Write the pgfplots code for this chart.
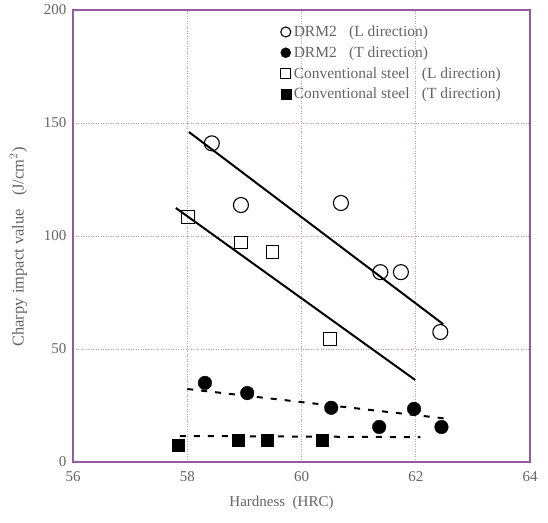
\documentclass[border=0pt]{standalone}
\usepackage{fontspec}
\setmainfont{Liberation Serif}
\usepackage{pgfplots}
\pgfplotsset{compat=1.18}
\definecolor{framec}{RGB}{150,90,165}
\definecolor{gridc}{RGB}{215,140,180}
\definecolor{textc}{RGB}{100,100,100}
\begin{document}
\begin{tikzpicture}
\path[use as bounding box] (-73pt,-60pt) rectangle (475pt,462pt);
\begin{axis}[
  scale only axis,
  width=457pt, height=452pt,
  xmin=56, xmax=64, ymin=0, ymax=200,
  xtick={56,58,60,62,64}, ytick={0,50,100,150,200},
  major tick length=0pt,
  grid=major,
  major grid style={gridc, dash pattern=on 1pt off 1.5pt, line width=0.8pt},
  axis line style={framec, line width=1.4pt},
  /pgf/number format/assume math mode=true,
  tick label style={font=\fontsize{15}{17}\selectfont, textc},
  xticklabel style={yshift=-6pt},
  yticklabel style={xshift=-3pt},
  xlabel={Hardness\hspace{0.5em}(HRC)},
  ylabel={Charpy impact value\hspace{0.8em}(J/cm$^2$)},
  label style={textc},
  xlabel style={font=\fontsize{15}{17}\selectfont, yshift=-8pt, xshift=-20pt},
  ylabel style={font=\fontsize{16.5}{18}\selectfont, yshift=10pt, xshift=-11pt},
  legend style={draw=none, fill=none, at={(0.452,0.972)}, anchor=north west,
    font=\fontsize{15.5}{17}\selectfont\color{textc}, row sep=4.5pt, inner sep=1pt,
    nodes={inner xsep=3pt}},
  legend cell align=left,
  legend image post style={mark size=5pt},
]
\addplot[only marks, mark=o, mark size=7.5pt, line width=1.1pt, black] coordinates {
 (58.43,141) (58.94,113.7) (60.69,114.6) (61.38,84) (61.74,84) (62.43,57.5)};
\addlegendentry{DRM2\hspace{0.8em}(L direction)}
\addplot[only marks, mark=*, mark size=6.8pt, black] coordinates {
 (58.31,35) (59.05,30.5) (60.52,24) (61.97,23.5) (61.36,15.5) (62.45,15.5)};
\addlegendentry{DRM2\hspace{0.8em}(T direction)}
\addplot[only marks, mark=square, mark size=6.2pt, line width=1pt, black] coordinates {
 (58.01,108.4) (58.94,97) (59.49,93) (60.5,54.4)};
\addlegendentry{Conventional steel\hspace{0.8em}(L direction)}
\addplot[only marks, mark=square*, mark size=5.8pt, black] coordinates {
 (57.84,7.5) (58.89,9.7) (59.4,9.7) (60.36,9.7)};
\addlegendentry{Conventional steel\hspace{0.8em}(T direction)}
\addplot[forget plot, black, line width=2pt] coordinates {(58.03,146) (62.48,61)};
\addplot[forget plot, black, line width=2pt] coordinates {(57.8,112.4) (61.99,36.3)};
\addplot[forget plot, black, line width=2pt, dash pattern=on 6pt off 8pt] coordinates {(58.0,32.3) (62.6,19)};
\addplot[forget plot, black, line width=2pt, dash pattern=on 6pt off 8pt] coordinates {(57.87,11.5) (62.08,11)};
\end{axis}
\end{tikzpicture}
\end{document}
